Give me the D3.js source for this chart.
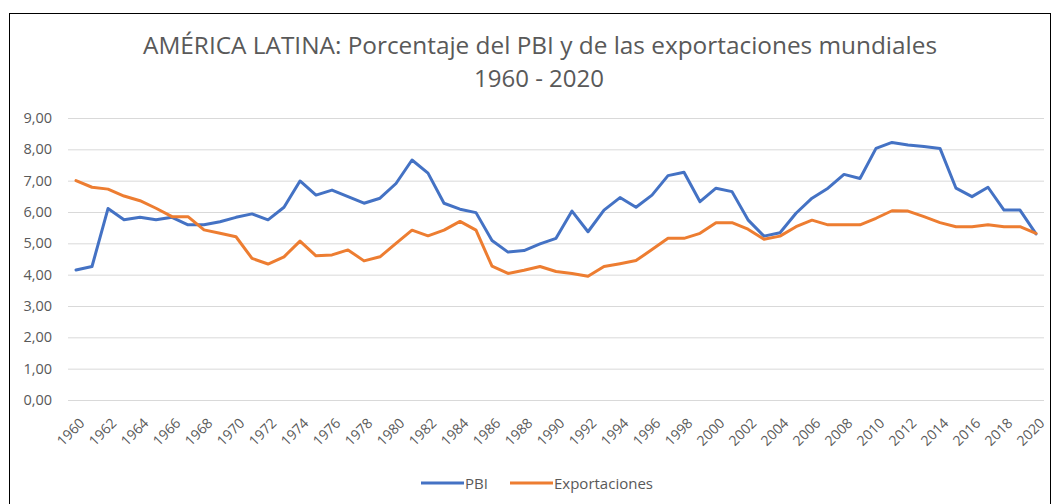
<!DOCTYPE html>
<html>
<head>
<meta charset="utf-8">
<script src="https://cdn.jsdelivr.net/npm/d3@7"></script>
<style>
  body { margin: 0; background: #fff; }
  text { font-family: "Open Sans", sans-serif; }
</style>
</head>
<body>
<div id="chart"></div>
<script>
const years = d3.range(1960, 2021);

const pbi = [
    4.15, 4.26, 6.11, 5.75, 5.83, 5.75, 5.83, 5.59, 5.59, 5.69,
    5.83, 5.94, 5.75, 6.15, 6.99, 6.54, 6.70, 6.49, 6.28, 6.44,
    6.91, 7.66, 7.24, 6.28, 6.09, 5.98, 5.09, 4.72, 4.77, 4.98,
    5.16, 6.03, 5.37, 6.06, 6.46, 6.15, 6.54, 7.16, 7.27, 6.33,
    6.76, 6.65, 5.75, 5.23, 5.34, 5.96, 6.44, 6.76, 7.20, 7.07,
    8.03, 8.22, 8.14, 8.09, 8.03, 6.76, 6.49, 6.79, 6.06, 6.06, 5.30
];

const exportaciones = [
    7.00, 6.79, 6.73, 6.51, 6.36, 6.12, 5.85, 5.85, 5.43, 5.32,
    5.21, 4.52, 4.34, 4.57, 5.07, 4.60, 4.63, 4.79, 4.44, 4.57,
    5.00, 5.42, 5.24, 5.42, 5.70, 5.42, 4.27, 4.04, 4.14, 4.26,
    4.10, 4.04, 3.95, 4.26, 4.35, 4.45, 4.80, 5.16, 5.16, 5.32,
    5.66, 5.66, 5.45, 5.13, 5.23, 5.53, 5.74, 5.59, 5.59, 5.59,
    5.80, 6.04, 6.03, 5.85, 5.66, 5.53, 5.53, 5.59, 5.53, 5.53, 5.32
];

const yTicks = d3.range(0, 10);
const xTickYears = years.filter((d) => d % 2 === 0);

const series = [
    { name: "PBI", values: pbi, color: "#4472C4" },
    { name: "Exportaciones", values: exportaciones, color: "#ED7D31" }
];

// Chart dimensions
const width = 1056;
const height = 504;
const marginTop = 118;
const marginRight = 12;
const marginBottom = 104;
const marginLeft = 68;
const textColor = "#595959";

const locale = d3.formatLocale({ decimal: ",", thousands: ".", grouping: [3], currency: ["", ""] });
const fmt = locale.format(".2f");

const x = d3
    .scalePoint()
    .domain(years)
    .range([marginLeft, width - marginRight])
    .padding(0.5);

const y = d3
    .scaleLinear()
    .domain([0, 9])
    .range([height - marginBottom, marginTop]);

const svg = d3
    .select("#chart")
    .append("svg")
    .attr("width", width)
    .attr("height", height)
    .attr("viewBox", [0, 0, width, height]);

// Frame
svg.append("rect")
    .attr("x", 9.5)
    .attr("y", 13.5)
    .attr("width", 1041)
    .attr("height", 500)
    .attr("fill", "none")
    .attr("stroke", "#000")
    .attr("stroke-width", 1);

// Title
svg.append("text")
    .attr("x", 540)
    .attr("y", 54)
    .attr("text-anchor", "middle")
    .attr("fill", textColor)
    .style("font-size", "24px")
    .attr("textLength", 794)
    .attr("lengthAdjust", "spacingAndGlyphs")
    .text("AMÉRICA LATINA: Porcentaje del PBI y de las exportaciones mundiales");

svg.append("text")
    .attr("x", 539)
    .attr("y", 87)
    .attr("text-anchor", "middle")
    .attr("fill", textColor)
    .style("font-size", "24px")
    .text("1960 - 2020");

// Y axis with gridlines
svg.append("g")
    .attr("transform", `translate(${marginLeft},0)`)
    .call(
        d3.axisLeft(y)
            .tickValues(yTicks)
            .tickFormat(fmt)
            .tickSize(-(width - marginLeft - marginRight))
            .tickPadding(16)
    )
    .call((g) => g.select(".domain").remove())
    .call((g) => g.selectAll(".tick line").attr("stroke", "#d9d9d9"))
    .call((g) =>
        g.selectAll(".tick text")
            .attr("fill", textColor)
            .style("font-size", "14.5px")
    );

// X axis labels (rotated)
svg.append("g")
    .attr("transform", `translate(0,${height - marginBottom})`)
    .call(d3.axisBottom(x).tickValues(xTickYears).tickSize(0))
    .call((g) => g.select(".domain").remove())
    .call((g) =>
        g.selectAll(".tick text")
            .attr("fill", textColor)
            .style("font-size", "14px")
            .attr("text-anchor", "end")
            .attr("dy", null)
            .attr("y", 0)
            .attr("transform", "translate(9,24) rotate(-45)")
    );

// Lines
const line = d3
    .line()
    .x((d, i) => x(years[i]))
    .y((d) => y(d));

svg.append("g")
    .attr("fill", "none")
    .attr("stroke-width", 3)
    .attr("stroke-linejoin", "round")
    .attr("stroke-linecap", "round")
    .selectAll("path")
    .data(series)
    .join("path")
    .attr("stroke", (d) => d.color)
    .attr("d", (d) => line(d.values));

// Legend
const legendX = [421, 510];
const legend = svg.append("g");
series.forEach((s, i) => {
    legend.append("line")
        .attr("x1", legendX[i])
        .attr("x2", legendX[i] + 43)
        .attr("y1", 483)
        .attr("y2", 483)
        .attr("stroke", s.color)
        .attr("stroke-width", 3);
    legend.append("text")
        .attr("x", legendX[i] + 44)
        .attr("y", 488.5)
        .attr("fill", textColor)
        .style("font-size", "15px")
        .text(s.name);
});
</script>
</body>
</html>
